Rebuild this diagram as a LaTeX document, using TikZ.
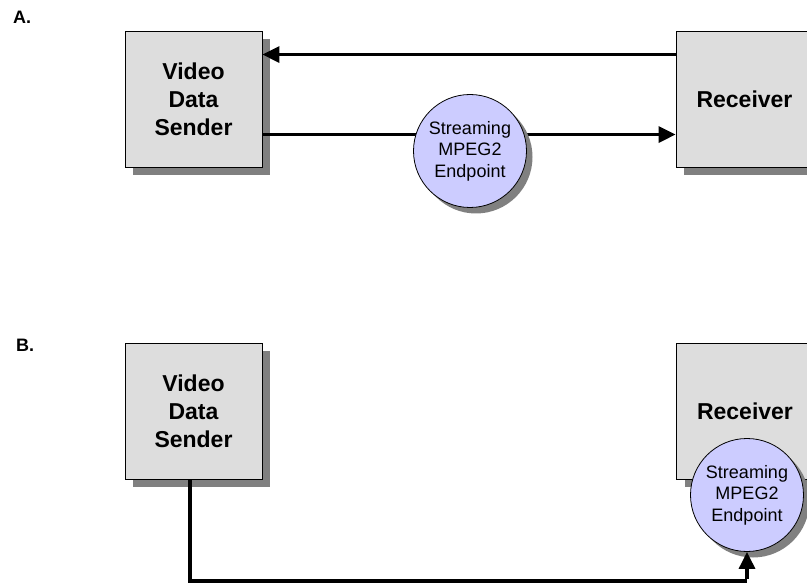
\documentclass[tikz,border=0pt]{standalone}
\usepackage{fontspec}
\setmainfont{Liberation Sans}
\usetikzlibrary{shadows,arrows.meta}
\definecolor{boxgray}{HTML}{DDDDDD}
\definecolor{shadowgray}{HTML}{808080}
\definecolor{endpointblue}{HTML}{CCCCFF}
\begin{document}
\begin{tikzpicture}[x=1pt,y=-1pt,
  unitbox/.style={draw=black, line width=0.9pt, fill=boxgray,
    minimum width=137pt, minimum height=136pt, inner sep=0pt,
    align=center, font=\fontsize{23}{28}\selectfont\bfseries,
    drop shadow={shadow xshift=8pt, shadow yshift=-8pt, fill=shadowgray, opacity=1}},
  endpoint/.style={circle, draw=black, line width=0.8pt, fill=endpointblue,
    minimum size=113pt, inner sep=0pt, align=center,
    font=\fontsize{18}{21.5}\selectfont,
    drop shadow={shadow xshift=6pt, shadow yshift=-6pt, fill=shadowgray, opacity=1}},
  flow/.style={line width=3.2pt, -{Triangle[length=17pt,width=16pt]}},
  plain/.style={line width=3.2pt},
  tag/.style={font=\fontsize{18}{20}\selectfont\bfseries, anchor=west, inner sep=0pt}]
\useasboundingbox (0,0) rectangle (807,583);

% ---- Panel A: endpoint in the network path ----
\node[tag] (labA) at (13,17) {A.};
\node[unitbox] (sendA) at (193.5,99) {Video\\Data\\Sender};
\node[unitbox] (recvA) at (744.5,99) {Receiver};

\draw[flow] ([yshift=-24pt]recvA.north west) -- ([yshift=-24pt]sendA.north east);
\draw[flow] ([yshift=-104pt]sendA.north east) -- ([yshift=-104pt]recvA.north west);
\node[endpoint] (epA) at (470,151) {Streaming\\MPEG2\\Endpoint};

% ---- Panel B: endpoint inside the receiver ----
\node[tag] (labB) at (16,345) {B.};
\node[unitbox] (sendB) at (193.5,411) {Video\\Data\\Sender};
\node[unitbox] (recvB) at (745,411) {Receiver};
\node[endpoint] (epB) at (747,495) {Streaming\\MPEG2\\Endpoint};

\coordinate (turnL) at (190,581);
\coordinate (turnR) at (epB.south |- turnL);
\draw[plain, line join=miter] ([xshift=-3.5pt]sendB.south) -- ([xshift=-3.5pt]sendB.south |- turnL) -- (turnR);
\draw[flow] ([yshift=1.6pt]turnR) -- (epB.south);
\end{tikzpicture}
\end{document}
